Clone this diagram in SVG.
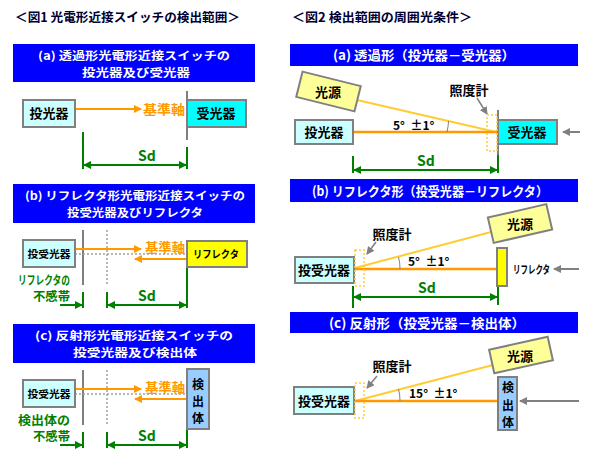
<svg xmlns="http://www.w3.org/2000/svg" width="598" height="459" viewBox="0 0 598 459">
<style>
text{font-family:"Noto Sans CJK JP","Liberation Sans",sans-serif;font-weight:bold}
.ttl{font-size:12.5px;fill:#000033}
.hd{font-size:13px;fill:#ffffff}
.hd2{font-size:11.2px;fill:#ffffff}
.hdr{fill:#0000ff}
.nd{stroke:#808080;stroke-width:2}
.nt{font-size:13px;fill:#000000;text-anchor:middle}
.ns{font-size:10.5px;fill:#000000;text-anchor:middle}
.or{stroke:#ff9900;stroke-width:2;fill:none}
.gr{stroke:#008000;stroke-width:2;fill:none}
.gy{stroke:#808080;stroke-width:2;fill:none}
.dt{stroke:#a0a0a0;stroke-width:1.5;stroke-dasharray:2,2;fill:none}
.yl{stroke:#ffcc33;stroke-width:2;fill:none}
.mt{stroke:#ffcc33;stroke-width:1.5;stroke-dasharray:2,2;fill:none}
.arc{stroke:#808080;stroke-width:1;fill:none}
.ot{font-size:13px;fill:#ff9900}
.gt{font-size:12px;fill:#008000}
.sd{font-size:14px;fill:#008000;text-anchor:middle}
.bk{font-size:12px;fill:#000000}
.mk{font-size:13px;fill:#000000;text-anchor:middle}
</style>
<defs>
<marker id="aO" markerWidth="8" markerHeight="8" refX="7" refY="4" orient="auto-start-reverse" markerUnits="userSpaceOnUse"><path d="M0,0 L8,4 L0,8 z" fill="#ff9900"/></marker>
<marker id="aG" markerWidth="8" markerHeight="8" refX="7" refY="4" orient="auto-start-reverse" markerUnits="userSpaceOnUse"><path d="M0,0 L8,4 L0,8 z" fill="#008000"/></marker>
<marker id="aY" markerWidth="8" markerHeight="8" refX="7" refY="4" orient="auto-start-reverse" markerUnits="userSpaceOnUse"><path d="M0,0 L8,4 L0,8 z" fill="#808080"/></marker>
</defs>
<rect width="598" height="459" fill="#ffffff"/>

<!-- Titles -->
<text class="ttl" x="15" y="22" textLength="225" lengthAdjust="spacingAndGlyphs">＜図1  光電形近接スイッチの検出範囲＞</text>
<text class="ttl" x="292" y="22" textLength="180" lengthAdjust="spacingAndGlyphs">＜図2  検出範囲の周囲光条件＞</text>

<!-- Headers -->
<g id="hdr-left-a">
<rect class="hdr" x="13" y="44" width="242" height="38"/>
<text class="hd2" x="134" y="60" text-anchor="middle" textLength="192" lengthAdjust="spacingAndGlyphs">(a) 透過形光電形近接スイッチの</text>
<text class="hd2" x="136" y="77" text-anchor="middle" textLength="108" lengthAdjust="spacingAndGlyphs">投光器及び受光器</text>
</g>
<g id="hdr-left-b">
<rect class="hdr" x="13" y="184" width="242" height="39"/>
<text class="hd2" x="135" y="200" text-anchor="middle" textLength="220" lengthAdjust="spacingAndGlyphs">(b) リフレクタ形光電形近接スイッチの</text>
<text class="hd2" x="135" y="217" text-anchor="middle" textLength="136" lengthAdjust="spacingAndGlyphs">投受光器及びリフレクタ</text>
</g>
<g id="hdr-left-c">
<rect class="hdr" x="13" y="324" width="242" height="39"/>
<text class="hd2" x="134" y="340" text-anchor="middle" textLength="198" lengthAdjust="spacingAndGlyphs">(c) 反射形光電形近接スイッチの</text>
<text class="hd2" x="135" y="357" text-anchor="middle" textLength="124" lengthAdjust="spacingAndGlyphs">投受光器及び検出体</text>
</g>
<g id="hdr-right-a">
<rect class="hdr" x="290" y="44" width="288" height="22"/>
<text class="hd" x="424" y="60" text-anchor="middle" textLength="182" lengthAdjust="spacingAndGlyphs">(a) 透過形（投光器－受光器）</text>
</g>
<g id="hdr-right-b">
<rect class="hdr" x="290" y="179" width="288" height="23"/>
<text class="hd" x="430" y="196" text-anchor="middle" textLength="236" lengthAdjust="spacingAndGlyphs">(b) リフレクタ形（投受光器－リフレクタ）</text>
</g>
<g id="hdr-right-c">
<rect class="hdr" x="290" y="312" width="288" height="21"/>
<text class="hd" x="427" y="328" text-anchor="middle" textLength="196" lengthAdjust="spacingAndGlyphs">(c) 反射形（投受光器－検出体）</text>
</g>

<!-- Connectors -->
<g id="connectors">
<!-- left a -->
<line class="or" x1="75" y1="109" x2="141" y2="109" marker-end="url(#aO)"/>
<line class="gy" x1="187" y1="91" x2="187" y2="140"/>
<line class="gr" x1="83" y1="132" x2="83" y2="169"/>
<line class="gr" x1="187" y1="147" x2="187" y2="169"/>
<line class="gr" x1="84" y1="165" x2="186" y2="165" marker-start="url(#aG)" marker-end="url(#aG)"/>
<!-- left b -->
<line class="gy" x1="83" y1="230" x2="83" y2="285"/>
<line class="dt" x1="107" y1="230" x2="107" y2="285"/>
<line class="or" x1="75" y1="249" x2="141" y2="249" marker-end="url(#aO)"/>
<line class="dt" x1="75" y1="254" x2="187" y2="254"/>
<line class="or" x1="187" y1="259" x2="135" y2="259" marker-end="url(#aO)"/>
<line class="gr" x1="187" y1="267" x2="187" y2="308"/>
<line class="gr" x1="107" y1="292" x2="107" y2="308"/>
<line class="gr" x1="83" y1="292" x2="83" y2="308"/>
<line class="gr" x1="60" y1="305" x2="82" y2="305" marker-end="url(#aG)"/>
<line class="gr" x1="108" y1="305" x2="186" y2="305" marker-start="url(#aG)" marker-end="url(#aG)"/>
<!-- left c -->
<line class="gy" x1="83" y1="370" x2="83" y2="425"/>
<line class="dt" x1="107" y1="370" x2="107" y2="425"/>
<line class="or" x1="75" y1="389" x2="141" y2="389" marker-end="url(#aO)"/>
<line class="dt" x1="75" y1="394" x2="187" y2="394"/>
<line class="or" x1="187" y1="399" x2="135" y2="399" marker-end="url(#aO)"/>
<line class="gr" x1="187" y1="412" x2="187" y2="448"/>
<line class="gr" x1="107" y1="432" x2="107" y2="448"/>
<line class="gr" x1="83" y1="432" x2="83" y2="448"/>
<line class="gr" x1="60" y1="445" x2="82" y2="445" marker-end="url(#aG)"/>
<line class="gr" x1="108" y1="445" x2="186" y2="445" marker-start="url(#aG)" marker-end="url(#aG)"/>
<!-- right a -->
<line class="yl" x1="357" y1="100" x2="496" y2="132"/>
<line class="or" x1="353" y1="132" x2="497" y2="132" style="stroke-width:2.5"/>
<line class="gy" x1="498" y1="110" x2="498" y2="155"/>
<line class="gr" x1="498" y1="155" x2="498" y2="173"/>
<line class="gr" x1="353" y1="156" x2="353" y2="173"/>
<line class="gr" x1="354" y1="170" x2="497" y2="170" marker-start="url(#aG)" marker-end="url(#aG)"/>
<line class="gy" x1="477" y1="98" x2="487" y2="114" style="stroke-width:1.5" marker-end="url(#aY)"/>
<path class="arc" d="M447,132 A50,50 0 0 0 448.5,121"/>
<line class="gy" x1="580" y1="132" x2="563" y2="132" marker-end="url(#aY)"/>
<!-- right b -->
<line class="yl" x1="355" y1="268" x2="491" y2="232"/>
<line class="or" x1="355" y1="269" x2="497" y2="269" style="stroke-width:2.5"/>
<line class="gr" x1="353" y1="286" x2="353" y2="308"/>
<line class="gr" x1="498" y1="287" x2="498" y2="305"/>
<line class="gr" x1="354" y1="297" x2="497" y2="297" marker-start="url(#aG)" marker-end="url(#aG)"/>
<line class="gy" x1="376" y1="242" x2="367" y2="254" style="stroke-width:1.5" marker-end="url(#aY)"/>
<path class="arc" d="M400,269 A45,45 0 0 0 398.5,257"/>
<line class="gy" x1="579" y1="269" x2="554" y2="269" marker-end="url(#aY)"/>
<!-- right c -->
<line class="yl" x1="355" y1="401" x2="493" y2="365"/>
<line class="or" x1="355" y1="401" x2="498" y2="401" style="stroke-width:2.5"/>
<line class="gy" x1="377" y1="376" x2="367" y2="388" style="stroke-width:1.5" marker-end="url(#aY)"/>
<path class="arc" d="M400,401 A45,45 0 0 0 398.5,389"/>
<line class="gy" x1="579" y1="401" x2="520" y2="401" marker-end="url(#aY)"/>
</g>

<!-- Left a nodes -->
<g id="la-emitter"><rect class="nd" x="23" y="100" width="52" height="27" fill="#ccffff"/><text class="nt" x="49" y="118">投光器</text></g>
<g id="la-axis"><text class="ot" x="143" y="114" textLength="42" lengthAdjust="spacingAndGlyphs">基準軸</text></g>
<g id="la-receiver"><rect class="nd" x="187" y="100" width="59" height="27" fill="#00ffff"/><text class="nt" x="216" y="118">受光器</text></g>
<g id="la-sd"><text class="sd" x="147" y="161">Sd</text></g>

<!-- Left b nodes -->
<g id="lb-unit"><rect class="nd" x="23" y="240" width="52" height="27" fill="#ccffff"/><text class="ns" x="49" y="258" textLength="43" lengthAdjust="spacingAndGlyphs">投受光器</text></g>
<g id="lb-axis"><text class="ot" x="145" y="252" textLength="40" lengthAdjust="spacingAndGlyphs">基準軸</text></g>
<g id="lb-reflector"><rect class="nd" x="187" y="241" width="60" height="26" fill="#ffff00"/><text class="ns" x="216" y="258" textLength="46" lengthAdjust="spacingAndGlyphs">リフレクタ</text></g>
<g id="lb-dead"><text class="gt" x="18" y="285" textLength="52" lengthAdjust="spacingAndGlyphs">リフレクタの</text><text class="gt" x="33" y="301" textLength="37" lengthAdjust="spacingAndGlyphs">不感帯</text></g>
<g id="lb-sd"><text class="sd" x="147" y="301">Sd</text></g>

<!-- Left c nodes -->
<g id="lc-unit"><rect class="nd" x="23" y="380" width="52" height="27" fill="#ccffff"/><text class="ns" x="49" y="398" textLength="43" lengthAdjust="spacingAndGlyphs">投受光器</text></g>
<g id="lc-axis"><text class="ot" x="145" y="392" textLength="40" lengthAdjust="spacingAndGlyphs">基準軸</text></g>
<g id="lc-object"><rect class="nd" x="187" y="369" width="22" height="60" fill="#99ccff"/><text class="nt" x="198" y="389" style="font-size:12px">検</text><text class="nt" x="198" y="406" style="font-size:12px">出</text><text class="nt" x="198" y="423" style="font-size:12px">体</text></g>
<g id="lc-dead"><text class="gt" x="18" y="425" textLength="52" lengthAdjust="spacingAndGlyphs">検出体の</text><text class="gt" x="33" y="441" textLength="37" lengthAdjust="spacingAndGlyphs">不感帯</text></g>
<g id="lc-sd"><text class="sd" x="147" y="441">Sd</text></g>

<!-- Right a nodes -->
<g id="ra-light"><rect class="nd" x="-30" y="-13" width="60" height="26" fill="#ffff99" transform="translate(328.5,91.5) rotate(14)"/><text class="nt" x="328" y="97">光源</text></g>
<g id="ra-emitter"><rect class="nd" x="295" y="120" width="58" height="24" fill="#ccffff"/><text class="nt" x="324" y="137">投光器</text></g>
<g id="ra-receiver"><rect class="nd" x="498" y="120" width="59" height="24" fill="#00ffff"/><text class="nt" x="527" y="137">受光器</text></g>
<g id="ra-meter"><rect class="mt" x="487" y="115" width="10" height="36"/><text class="mk" x="469" y="95">照度計</text></g>
<g id="ra-angle"><text class="bk" x="393" y="130" xml:space="preserve">5°  ±1°</text></g>
<g id="ra-sd"><text class="sd" x="426" y="166">Sd</text></g>

<!-- Right b nodes -->
<g id="rb-light"><rect class="nd" x="-30" y="-13" width="60" height="26" fill="#ffff99" transform="translate(520,223.5) rotate(-13)"/><text class="nt" x="520" y="229">光源</text></g>
<g id="rb-unit"><rect class="nd" x="295" y="257" width="59" height="26" fill="#ccffff"/><text class="nt" x="324" y="275">投受光器</text></g>
<g id="rb-meter"><rect class="mt" x="355" y="250" width="9" height="36"/><text class="mk" x="392" y="239">照度計</text></g>
<g id="rb-reflector"><rect class="nd" x="497" y="248" width="10" height="38" fill="#ffff00"/><text class="bk" x="513" y="274" style="font-size:11px" textLength="37" lengthAdjust="spacingAndGlyphs">リフレクタ</text></g>
<g id="rb-angle"><text class="bk" x="408" y="266" xml:space="preserve">5°  ±1°</text></g>
<g id="rb-sd"><text class="sd" x="427" y="293">Sd</text></g>

<!-- Right c nodes -->
<g id="rc-light"><rect class="nd" x="-30" y="-12" width="60" height="24" fill="#ffff99" transform="translate(521,355) rotate(-12.5)"/><text class="nt" x="520" y="361">光源</text></g>
<g id="rc-unit"><rect class="nd" x="294" y="387" width="60" height="27" fill="#ccffff"/><text class="nt" x="324" y="406">投受光器</text></g>
<g id="rc-meter"><rect class="mt" x="355" y="383" width="9" height="35"/><text class="mk" x="392" y="371">照度計</text></g>
<g id="rc-object"><rect class="nd" x="498" y="377" width="19" height="53" fill="#99ccff"/><text class="nt" x="508" y="392" style="font-size:12px">検</text><text class="nt" x="508" y="410" style="font-size:12px">出</text><text class="nt" x="508" y="427" style="font-size:12px">体</text></g>
<g id="rc-angle"><text class="bk" x="409" y="398" xml:space="preserve">15°  ±1°</text></g>
</svg>
